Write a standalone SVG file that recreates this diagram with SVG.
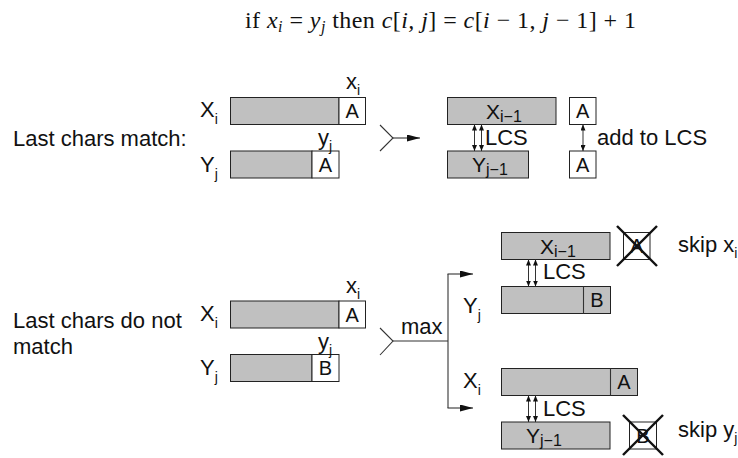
<svg xmlns="http://www.w3.org/2000/svg" width="738" height="458" viewBox="0 0 738 458">
<style>
text{font-family:"Liberation Sans",Arial,sans-serif;fill:#111}
.lbl{font-size:22px}
.big{font-size:22px}
.sub{font-size:14px}
.bsub{font-size:16px}
.cell{font-size:20px}
.bx{font-size:21px}
.g{fill:#c0c0c0;stroke:#222;stroke-width:1}
.w{fill:#fff;stroke:#222;stroke-width:1}
.ln{fill:none;stroke:#333;stroke-width:1.1}
.dbl{fill:none;stroke:#333;stroke-width:1;marker-start:url(#sm);marker-end:url(#sm)}
.arr{fill:none;stroke:#333;stroke-width:1.1;marker-end:url(#big)}
.x{stroke:#111;stroke-width:2.4}
.m{font-family:"Liberation Serif","Times New Roman",serif;font-size:24px}
.it{font-style:italic}
</style>
<defs>
<marker id="big" viewBox="0 0 13 7" refX="13" refY="3.5" markerWidth="13" markerHeight="7" markerUnits="userSpaceOnUse" orient="auto">
<path d="M0,0 L13,3.5 L0,7 Z" fill="#111"/>
</marker>
<marker id="sm" viewBox="0 0 6 5" refX="6" refY="2.5" markerWidth="6" markerHeight="5" markerUnits="userSpaceOnUse" orient="auto-start-reverse">
<path d="M0,0 L6,2.5 L0,5 Z" fill="#111"/>
</marker>
</defs>

<g id="formula">
<text class="m" x="245" y="28" textLength="391" lengthAdjust="spacing">if <tspan class="it">x</tspan><tspan class="it" font-size="16" dy="4">i</tspan><tspan dy="-4"> = </tspan><tspan class="it">y</tspan><tspan class="it" font-size="16" dy="4">j</tspan><tspan dy="-4"> then </tspan><tspan class="it">c</tspan>[<tspan class="it">i, j</tspan>] = <tspan class="it">c</tspan>[<tspan class="it">i</tspan> − 1, <tspan class="it">j</tspan> − 1] + 1</text>
</g>

<g id="match-label"><text class="lbl" x="13" y="146">Last chars match:</text></g>

<g id="match-Xi">
<text class="big" x="200" y="117">X<tspan class="sub" dy="7">i</tspan></text>
<rect class="g" x="230.5" y="97.5" width="108.5" height="27"/>
<rect class="w" x="339" y="97.5" width="26.5" height="27"/>
<text class="cell" x="352.2" y="118" text-anchor="middle">A</text>
<text class="big" x="346" y="89">x<tspan class="sub" dy="6">i</tspan></text>
</g>

<g id="match-Yj">
<text class="big" x="200" y="171.5">Y<tspan class="sub" dy="7">j</tspan></text>
<rect class="g" x="230.5" y="151" width="81.5" height="27"/>
<rect class="w" x="312" y="151" width="27" height="27"/>
<text class="cell" x="325.5" y="171.5" text-anchor="middle">A</text>
<text class="big" x="318" y="145">y<tspan class="sub" dy="6">j</tspan></text>
</g>

<g id="match-Xi-1">
<rect class="g" x="447.5" y="97.5" width="108.5" height="27"/>
<text class="bx" x="486" y="118.5">X<tspan class="bsub" dy="3">i−1</tspan></text>
</g>
<g id="match-Yj-1">
<rect class="g" x="447.5" y="151" width="81" height="27"/>
<text class="bx" x="472" y="172">Y<tspan class="bsub" dy="3">j−1</tspan></text>
</g>
<g id="match-A1">
<rect class="w" x="569.5" y="97.5" width="26.5" height="27"/>
<text class="cell" x="582.7" y="118" text-anchor="middle">A</text>
</g>
<g id="match-A2">
<rect class="w" x="569.5" y="151" width="26.5" height="27"/>
<text class="cell" x="582.7" y="171.5" text-anchor="middle">A</text>
</g>

<g id="nomatch-label">
<text class="lbl" x="13" y="328">Last chars do not</text>
<text class="lbl" x="13" y="354">match</text>
</g>

<g id="nomatch-Xi">
<text class="big" x="200" y="320.5">X<tspan class="sub" dy="7">i</tspan></text>
<rect class="g" x="230.5" y="301" width="108.5" height="27"/>
<rect class="w" x="339" y="301" width="26.5" height="27"/>
<text class="cell" x="352.2" y="321.5" text-anchor="middle">A</text>
<text class="big" x="346" y="292.5">x<tspan class="sub" dy="6">i</tspan></text>
</g>

<g id="nomatch-Yj">
<text class="big" x="200" y="375">Y<tspan class="sub" dy="7">j</tspan></text>
<rect class="g" x="230.5" y="354.5" width="81.5" height="27"/>
<rect class="w" x="312" y="354.5" width="27" height="27"/>
<text class="cell" x="325.5" y="375" text-anchor="middle">B</text>
<text class="big" x="318" y="348.5">y<tspan class="sub" dy="6">j</tspan></text>
</g>

<g id="skipx-Xi-1">
<rect class="g" x="501.5" y="232.5" width="108.5" height="27"/>
<text class="bx" x="540" y="253.5">X<tspan class="bsub" dy="3">i−1</tspan></text>
</g>
<g id="skipx-A">
<rect class="w" x="623.5" y="232.5" width="26.5" height="27"/>
<text class="cell" x="636.7" y="253" text-anchor="middle">A</text>
<line class="x" x1="617" y1="226" x2="657" y2="266"/>
<line class="x" x1="657" y1="226" x2="617" y2="266"/>
<text class="lbl" x="678" y="252">skip x<tspan class="sub" dy="6">i</tspan></text>
</g>
<g id="skipx-Yj">
<text class="big" x="463" y="313">Y<tspan class="sub" dy="7">j</tspan></text>
<rect class="g" x="501.5" y="286.5" width="109" height="27"/>
<line class="ln" x1="583.5" y1="286.5" x2="583.5" y2="313.5"/>
<text class="cell" x="597" y="307" text-anchor="middle">B</text>
</g>

<g id="skipy-Xi">
<text class="big" x="463" y="388">X<tspan class="sub" dy="7">i</tspan></text>
<rect class="g" x="501.5" y="368.5" width="136" height="27"/>
<line class="ln" x1="610.5" y1="368.5" x2="610.5" y2="395.5"/>
<text class="cell" x="624" y="389" text-anchor="middle">A</text>
</g>
<g id="skipy-Yj-1">
<rect class="g" x="501.5" y="422" width="108.5" height="27"/>
<text class="bx" x="526" y="443">Y<tspan class="bsub" dy="3">j−1</tspan></text>
</g>
<g id="skipy-B">
<rect class="w" x="629.5" y="422" width="27" height="27"/>
<text class="cell" x="643" y="442.5" text-anchor="middle">B</text>
<line class="x" x1="623" y1="415" x2="663" y2="455"/>
<line class="x" x1="663" y1="415" x2="623" y2="455"/>
<text class="lbl" x="678" y="437">skip y<tspan class="sub" dy="6">j</tspan></text>
</g>

<g id="connectors">
<polyline class="ln" points="380,125 393,138 380,151"/>
<line class="arr" x1="393" y1="138" x2="420" y2="138"/>
<line class="dbl" x1="474.5" y1="124.5" x2="474.5" y2="151"/>
<line class="dbl" x1="481.5" y1="124.5" x2="481.5" y2="151"/>
<text class="lbl" x="485" y="145">LCS</text>
<line class="dbl" x1="583" y1="124.5" x2="583" y2="151"/>
<text class="lbl" x="597" y="145">add to LCS</text>

<polyline class="ln" points="380,328 393,341 380,355"/>
<line class="ln" x1="393" y1="341" x2="448" y2="341"/>
<text class="lbl" x="401" y="334">max</text>
<line class="ln" x1="448" y1="274" x2="448" y2="408"/>
<line class="arr" x1="447.5" y1="274" x2="473" y2="274"/>
<line class="arr" x1="447.5" y1="408" x2="473" y2="408"/>

<line class="dbl" x1="528.5" y1="259.5" x2="528.5" y2="286.5"/>
<line class="dbl" x1="535.5" y1="259.5" x2="535.5" y2="286.5"/>
<text class="lbl" x="543" y="279">LCS</text>
<line class="dbl" x1="528.5" y1="395.5" x2="528.5" y2="422"/>
<line class="dbl" x1="535.5" y1="395.5" x2="535.5" y2="422"/>
<text class="lbl" x="543" y="416">LCS</text>
</g>
</svg>
